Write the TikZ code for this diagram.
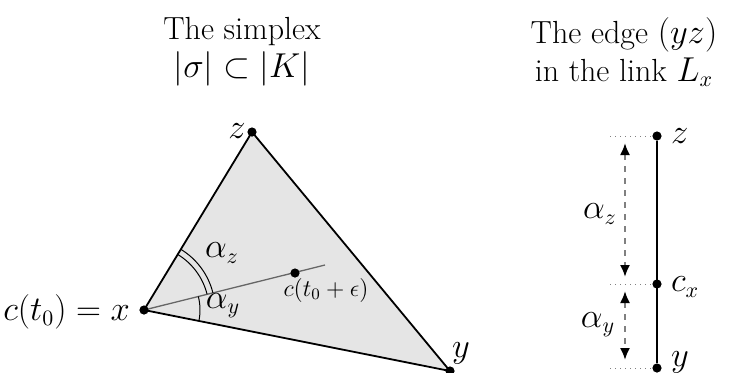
\documentclass[tikz,border=0pt]{standalone}
\usetikzlibrary{arrows.meta}
\tikzset{
  dot/.style={circle,fill=black,inner sep=0pt,minimum size=4.6pt},
  edgeline/.style={line width=0.9pt,line join=round},
  ray/.style={line width=0.65pt,black!60},
  guide/.style={dotted,black!50,line width=0.5pt},
  meas/.style={dashed,black!50,line width=1pt,{Latex[black,length=6pt,width=5pt]}-{Latex[black,length=6pt,width=5pt]}},
  big/.style={font=\fontsize{16}{19}\selectfont},
  small/.style={font=\fontsize{12}{14}\selectfont}
}
\begin{document}
\begin{tikzpicture}[x=0.5pt,y=-0.5pt]
\useasboundingbox (0,0) rectangle (734,372);
% titles
\node[big,align=center] (t1) at (242,52) {The simplex\\ $|\sigma|\subset|K|$};
\node[big,align=center] (t2) at (624,52) {The edge $(yz)$\\ in the link $L_x$};
% simplex
\coordinate (X) at (144,310);
\coordinate (Z) at (252,132);
\coordinate (Y) at (450,371);
\coordinate (R) at (325,265);
\fill[black!10] (X)--(Z)--(Y)--cycle;
\draw[edgeline] (X)--(Z)--(Y)--cycle;
\draw[ray] (X) -- (R);
\draw[line width=0.5pt] (X) ++(-14:65) arc (-14:-58.7:65);
\draw[line width=0.5pt] (X) ++(-14:71) arc (-14:-58.7:71);
\draw[line width=0.5pt] (X) ++(11.3:56) arc (11.3:-14:56);
\node[dot] (x) at (X) {};
\node[dot] (z) at (Z) {};
\node[dot] (y) at (Y) {};
\node[dot] (c) at (295,273) {};
\node[big,anchor=east] (lx) at (137,312) {$c(t_0)=x$};
\node[big] (lz) at (237,131) {$z$};
\node[big] (ly) at (461,353) {$y$};
\node[small] (lc) at (326,290) {$c(t_0+\epsilon)$};
\node[big] (laz) at (222,253) {$\alpha_z$};
\node[big] (lay) at (223,306) {$\alpha_y$};
% link edge
\node[dot] (z2) at (657,136) {};
\node[dot] (c2) at (657,284) {};
\node[dot] (y2) at (657,368) {};
\draw[edgeline] (z2) -- (y2);
\coordinate (gz) at (610,136);
\coordinate (gc) at (610,284);
\coordinate (gy) at (610,368);
\draw[guide] (gz) -- (z2);
\draw[guide] (gc) -- (c2);
\draw[guide] (gy) -- (y2);
\coordinate (a1) at (625,143);
\coordinate (a2) at (625,277);
\coordinate (a3) at (625,291);
\coordinate (a4) at (625,360);
\draw[meas] (a1) -- (a2);
\draw[meas] (a3) -- (a4);
\node[big,anchor=west] (lz2) at (664,136) {$z$};
\node[big,anchor=west] (lc2) at (664,287) {$c_x$};
\node[big,anchor=west] (ly2) at (664,362) {$y$};
\node[big] (laz2) at (600,214) {$\alpha_z$};
\node[big] (lay2) at (598,325) {$\alpha_y$};
\end{tikzpicture}
\end{document}
